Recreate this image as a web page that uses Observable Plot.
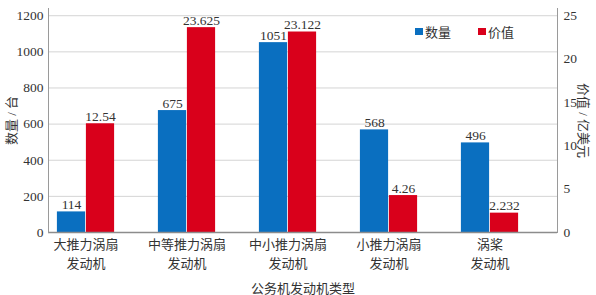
<!DOCTYPE html>
<html><head><meta charset="utf-8">
<script src="https://cdn.jsdelivr.net/npm/d3@7"></script>
<script src="https://cdn.jsdelivr.net/npm/@observablehq/plot@0.6"></script>
<style>
body{margin:0;background:#fff;}
#wrap{position:relative;width:596px;height:295px;}
#wrap svg text{font-family:"Liberation Serif","Noto Sans CJK SC",serif !important;}
#legend{position:absolute;left:415px;top:22px;font:13px "Noto Sans CJK SC",sans-serif;color:#333;display:flex;gap:0;}
#legend span{display:inline-flex;align-items:center;margin-right:27px;}
#legend i{display:inline-block;width:8px;height:7px;margin-right:2px;}
</style></head>
<body><div id="wrap"><div id="legend"></div></div>
<script>
const categories = ["大推力涡扇\n发动机","中等推力涡扇\n发动机","中小推力涡扇\n发动机","小推力涡扇\n发动机","涡桨\n发动机"];
const counts = [114, 675, 1051, 568, 496];
const values = [12.54, 23.625, 23.122, 4.26, 2.232];
const valueLabels = ["12.54","23.625","23.122","4.26","2.232"];
const leftTicks = [0,200,400,600,800,1000,1200];
const rightTicks = [0,5,10,15,20,25];
const seriesNames = ["数量","价值"];
const colors = ["#0a6fc0","#d9001b"];

const ratio = 1200/25;
const rows = categories.map((c,i)=>({cat:c, count:counts[i], value:values[i], vy:values[i]*ratio, vl:valueLabels[i]}));

const serif = '"Liberation Serif","Noto Sans CJK SC",serif';
const half = 509/5/2, bw = 29;

const chart = Plot.plot({
  width:596, height:295,
  marginLeft:48, marginRight:39, marginTop:8, marginBottom:63,
  style:{fontFamily:serif, fontSize:"13.5px", color:"#333", background:"#fff"},
  x:{domain:categories, padding:0, insetLeft:-15, insetRight:15, label:null},
  y:{domain:[0,1240], label:null},
  marks:[
    Plot.gridY(leftTicks.slice(1), {stroke:"#d4d4d4", strokeOpacity:1}),
    Plot.barY(rows, {x:"cat", y:"count", fill:colors[0], insetLeft:half-bw, insetRight:half}),
    Plot.barY(rows, {x:"cat", y:"vy", fill:colors[1], insetLeft:half, insetRight:half-bw}),
    Plot.text(rows, {x:"cat", y:"count", text:d=>String(d.count), dx:-bw/2, dy:-3, lineAnchor:"bottom", fill:"#333", fontSize:13.5, letterSpacing:"0.5px"}),
    Plot.text(rows, {x:"cat", y:"vy", text:"vl", dx:bw/2, dy:-3, lineAnchor:"bottom", fill:"#333", fontSize:13.5, letterSpacing:"1px"}),
    Plot.ruleY([0], {stroke:"#8c8c8c", strokeWidth:1.5}),
    Plot.frame({anchor:"left", stroke:"#9a9a9a"}),
    Plot.frame({anchor:"right", stroke:"#9a9a9a"}),
    Plot.axisY({anchor:"left", ticks:leftTicks, tickFormat:d=>String(d), tickSize:0, tickPadding:5, label:null, fill:"#333", fontSize:13.5}),
    Plot.axisY({anchor:"right", ticks:rightTicks.map(v=>v*ratio), tickFormat:v=>String(v/ratio), tickSize:0, tickPadding:6, label:null, fill:"#333", fontSize:13.5}),
    Plot.axisX({anchor:"bottom", tickSize:0, tickPadding:3, lineHeight:1.45, fontSize:13, fill:"#333", label:"公务机发动机类型", labelAnchor:"center", labelOffset:60, labelArrow:"none"}),
    Plot.text(["数量 / 台"], {frameAnchor:"left", textAnchor:"middle", rotate:-90, dx:-37, fontSize:13, fill:"#333"}),
    Plot.text(["价值 / 亿美元"], {frameAnchor:"right", textAnchor:"middle", rotate:90, dx:26, fontSize:13, fill:"#333"})
  ]
});
document.getElementById("wrap").prepend(chart);
const lg = document.getElementById("legend");
seriesNames.forEach((n,i)=>{
  const s=document.createElement("span");
  s.innerHTML=`<i style="background:${colors[i]}"></i>${n}`;
  lg.appendChild(s);
});
</script></body></html>
